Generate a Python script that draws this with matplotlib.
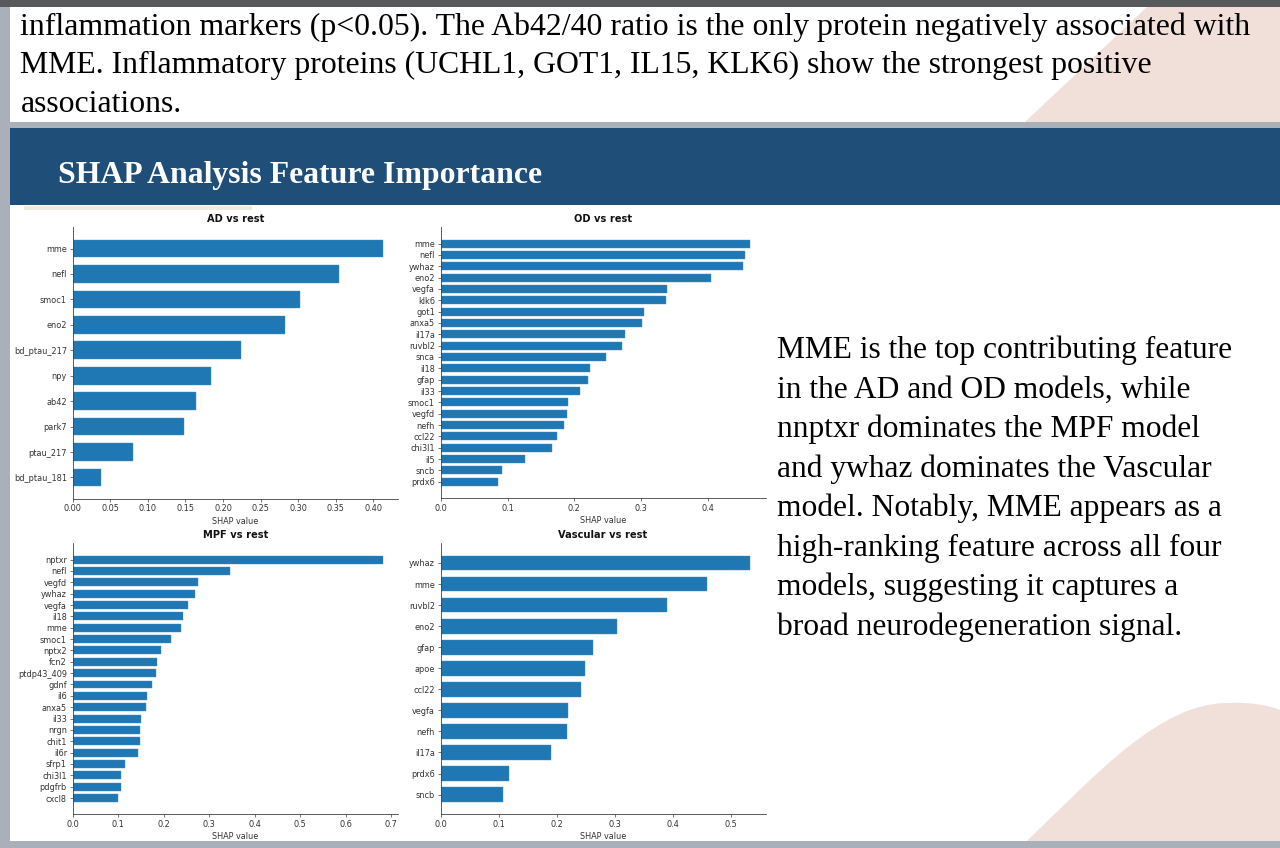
import numpy as np
import matplotlib
matplotlib.use("Agg")
import matplotlib.pyplot as plt
from matplotlib.patches import Rectangle, Polygon, PathPatch
from matplotlib.path import Path
from matplotlib.ticker import MultipleLocator, FormatStrFormatter

# ---------------- data ----------------
ad_labels = ["mme", "nefl", "smoc1", "eno2", "bd_ptau_217", "npy", "ab42", "park7", "ptau_217", "bd_ptau_181"]
ad_values = [0.412, 0.354, 0.302, 0.282, 0.224, 0.184, 0.164, 0.148, 0.080, 0.037]

od_labels = ["mme", "nefl", "ywhaz", "eno2", "vegfa", "klk6", "got1", "anxa5", "il17a", "ruvbl2", "snca",
             "il18", "gfap", "il33", "smoc1", "vegfd", "nefh", "ccl22", "chi3l1", "il5", "sncb", "prdx6"]
od_values = [0.463, 0.456, 0.452, 0.405, 0.338, 0.337, 0.305, 0.302, 0.276, 0.272, 0.248,
             0.224, 0.220, 0.209, 0.191, 0.189, 0.184, 0.174, 0.166, 0.126, 0.092, 0.086]

mpf_labels = ["nptxr", "nefl", "vegfd", "ywhaz", "vegfa", "il18", "mme", "smoc1", "nptx2", "fcn2", "ptdp43_409",
              "gdnf", "il6", "anxa5", "il33", "nrgn", "chit1", "il6r", "sfrp1", "chi3l1", "pdgfrb", "cxcl8"]
mpf_values = [0.681, 0.346, 0.276, 0.269, 0.253, 0.242, 0.239, 0.215, 0.194, 0.185, 0.184,
              0.175, 0.163, 0.161, 0.151, 0.149, 0.148, 0.144, 0.115, 0.107, 0.106, 0.100]

vas_labels = ["ywhaz", "mme", "ruvbl2", "eno2", "gfap", "apoe", "ccl22", "vegfa", "nefh", "il17a", "prdx6", "sncb"]
vas_values = [0.533, 0.459, 0.390, 0.303, 0.263, 0.248, 0.242, 0.219, 0.217, 0.190, 0.117, 0.108]

panel_titles = ["AD vs rest", "OD vs rest", "MPF vs rest", "Vascular vs rest"]
x_label = "SHAP value"

top_lines = [
    "inflammation markers (p<0.05). The Ab42/40 ratio is the only protein negatively associated with",
    "MME. Inflammatory proteins (UCHL1, GOT1, IL15, KLK6) show the strongest positive",
    "associations.",
]
banner_title = "SHAP Analysis Feature Importance"
side_lines = [
    "MME is the top contributing feature",
    "in the AD and OD models, while",
    "nnptxr dominates the MPF model",
    "and ywhaz dominates the Vascular",
    "model. Notably, MME appears as a",
    "high-ranking feature across all four",
    "models, suggesting it captures a",
    "broad neurodegeneration signal.",
]

# ---------------- figure ----------------
W, H = 1280, 848
fig = plt.figure(figsize=(W / 100, H / 100), dpi=100, facecolor="white")

bg = fig.add_axes([0, 0, 1, 1], zorder=0)
bg.set_xlim(0, W)
bg.set_ylim(H, 0)
bg.axis("off")

GRAY = "#a9b0b9"
bg.add_patch(Rectangle((0, 0), W, 7, color="#58595b", lw=0))
bg.add_patch(Rectangle((0, 7), 10, H, color=GRAY, lw=0))
bg.add_patch(Polygon([(1147, 7), (W, 7), (W, 122), (1025, 122)], closed=True, color="#f1e0da", lw=0))
bg.add_patch(Rectangle((0, 122), W, 6, color=GRAY, lw=0))
bg.add_patch(Rectangle((10, 128), W, 77, color="#1f4e79", lw=0))
bg.add_patch(Rectangle((24, 206), 228, 4, color="#eeece1", lw=0))
# bottom-right hill
verts = [(1027, 841), (1100, 770), (1160, 705), (1225, 703),
         (1252, 702), (1268, 705), (W, 710), (W, 841), (1027, 841)]
codes = [Path.MOVETO, Path.CURVE4, Path.CURVE4, Path.CURVE4,
         Path.CURVE4, Path.CURVE4, Path.CURVE4, Path.LINETO, Path.CLOSEPOLY]
bg.add_patch(PathPatch(Path(verts, codes), color="#f1e0da", lw=0))
bg.add_patch(Rectangle((0, 841), W, 7, color=GRAY, lw=0))

serif = ["Liberation Serif", "DejaVu Serif"]
for i, line in enumerate(top_lines):
    bg.text(20.5, 35 + i * 38.5, line, fontsize=22.9, family=serif, color="black", va="baseline", ha="left")
bg.text(58, 183, banner_title, fontsize=22.9, family=serif, weight="bold", color="white", va="baseline", ha="left")
for i, line in enumerate(side_lines):
    bg.text(777, 358.3 + i * 39.5, line, fontsize=22.7, family=serif, color="black", va="baseline", ha="left")

# ---------------- charts ----------------
S = 0.59
def px_axes(x0, y0, x1, y1):
    return fig.add_axes([x0 / W, 1 - y1 / H, (x1 - x0) / W, (y1 - y0) / H], zorder=2)

panels = [
    (ad_labels, ad_values, (72.7, 227.3, 398, 498.7), 0.05, "%.2f"),
    (od_labels, od_values, (440.7, 227.3, 765.5, 498.0), 0.1, "%.1f"),
    (mpf_labels, mpf_values, (72.7, 543.3, 398, 814.3), 0.1, "%.1f"),
    (vas_labels, vas_values, (440.7, 543.3, 765.5, 814.3), 0.1, "%.1f"),
]

for (labels, values, box, step, fmt), title in zip(panels, panel_titles):
    ax = px_axes(*box)
    ax.patch.set_alpha(0)
    n = len(labels)
    pos = np.arange(n)
    ax.barh(pos, values[::-1], height=0.7, color="#1f77b4", edgecolor="#4a90c8", linewidth=0.3)
    ax.set_yticks(pos)
    ax.set_yticklabels(labels[::-1])
    ax.xaxis.set_major_locator(MultipleLocator(step))
    ax.xaxis.set_major_formatter(FormatStrFormatter(fmt))
    ax.set_xlabel(x_label, fontsize=10 * S, color="#333333", labelpad=4 * S)
    ax.set_title(title, fontsize=12 * S, weight="bold", color="#111111", pad=6 * S)
    ax.tick_params(axis="both", labelsize=10 * S, length=3.5 * S, width=0.8 * S, pad=3.5 * S,
                   colors="#333333", labelcolor="#333333")
    for side in ("top", "right"):
        ax.spines[side].set_visible(False)
    for side in ("left", "bottom"):
        ax.spines[side].set_linewidth(0.8 * S * 1.3)
        ax.spines[side].set_color("#444444")

fig.savefig("out.png", dpi=100, facecolor="white")
